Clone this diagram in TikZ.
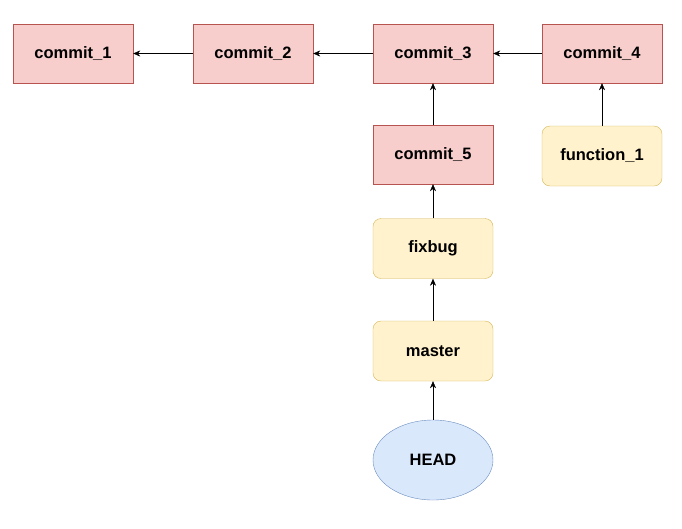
\documentclass[tikz,border=0pt]{standalone}
\usepackage{fontspec}
\setmainfont{Liberation Sans}
\usetikzlibrary{arrows.meta,shapes.geometric}
\definecolor{cfill}{HTML}{F8CECC}
\definecolor{cdraw}{HTML}{B85450}
\definecolor{bfill}{HTML}{FFF2CC}
\definecolor{bdraw}{HTML}{D6B656}
\definecolor{hfill}{HTML}{DAE8FC}
\definecolor{hdraw}{HTML}{6C8EBF}
\tikzset{
	commitbox/.style={draw=cdraw,fill=cfill,minimum width=120pt,minimum height=59pt,inner sep=0pt,font=\fontsize{16.5}{19}\selectfont\bfseries},
	branchbox/.style={draw=bdraw,fill=bfill,rounded corners=8pt,minimum width=120pt,minimum height=60pt,inner sep=0pt,font=\fontsize{16.5}{19}\selectfont\bfseries},
	headnode/.style={ellipse,draw=hdraw,fill=hfill,minimum width=120pt,minimum height=80pt,inner sep=0pt,font=\fontsize{16.5}{19}\selectfont\bfseries},
	link/.style={-{Stealth[length=7pt,width=6pt]},thin}
}
\begin{document}
\begin{tikzpicture}[x=1pt,y=-1pt]
		\useasboundingbox (0,0) rectangle (682,528);
		
		\node (c1) at (73,53.5) [commitbox] {commit\_1};
		\node (c2) at (253,53.5) [commitbox] {commit\_2};
		\node (c3) at (433,53.5) [commitbox] {commit\_3};
		\node (c4) at (602,53.5) [commitbox] {commit\_4};
		\node (c5) at (433,154.5) [commitbox] {commit\_5};
		\node (func) at (602,156) [branchbox] {function\_1};
		\node (fix) at (433,248.5) [branchbox] {fixbug};
		\node (master) at (433,351) [branchbox] {master};
		\node (head) at (433,460) [headnode] {HEAD};
		
		\draw [link] (c2)--(c1);
		\draw [link] (c3)--(c2);
		\draw [link] (c4)--(c3);
		\draw [link] (c5)--(c3);
		\draw [link] (func)--(c4);
		\draw [link] (fix)--(c5);
		\draw [link] (master)--(fix);
		\draw [link] (head)--(master);
	\end{tikzpicture}
\end{document}
